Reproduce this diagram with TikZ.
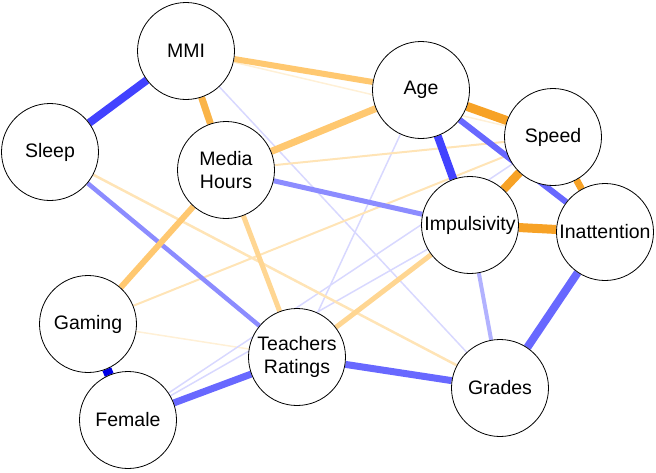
\documentclass[tikz,border=0pt]{standalone}
\usepackage{fontspec}
\setmainfont{Liberation Sans}
\usetikzlibrary{backgrounds}
\definecolor{negA}{RGB}{0,0,230}
\definecolor{negB}{RGB}{66,66,255}
\definecolor{negC}{RGB}{104,104,255}
\definecolor{negD}{RGB}{140,140,255}
\definecolor{negE}{RGB}{178,178,255}
\definecolor{negF}{RGB}{216,216,255}
\definecolor{posA}{RGB}{247,162,38}
\definecolor{posB}{RGB}{250,180,72}
\definecolor{posC}{RGB}{255,200,112}
\definecolor{posD}{RGB}{255,214,146}
\definecolor{posE}{RGB}{255,228,182}
\definecolor{posF}{RGB}{255,240,214}
\begin{document}
    \begin{tikzpicture}[x=1pt, y=-1pt,
            var/.style={circle, draw, fill=white, line width=0.8pt, minimum size=97pt,
                inner sep=0pt, align=center, font=\fontsize{19.5}{23}\selectfont},
            edge/.style={line width=#1}]
        \useasboundingbox (0,0) rectangle (656,472);
        \node [var] (mmi) at (186,51) {MMI};
        \node [var] (sleep) at (50,152) {Sleep};
        \node [var] (media) at (226,170) {Media\\Hours};
        \node [var] (age) at (421,90) {Age};
        \node [var] (speed) at (553,137) {Speed};
        \node [var] (impuls) at (470,225) {Impulsivity};
        \node [var] (inatt) at (605,232) {Inattention};
        \node [var] (gaming) at (88,324) {Gaming};
        \node [var] (teach) at (297,357) {Teachers\\Ratings};
        \node [var] (grades) at (500,388) {Grades};
        \node [var] (female) at (128,420) {Female};
        \begin{scope}[on background layer]
            \draw [posF, edge=1.5] (mmi) -- (speed);
            \draw [posF, edge=1.5] (gaming) -- (grades);
            \draw [negF, edge=1.5] (mmi) -- (grades);
            \draw [negF, edge=1.5] (age) -- (teach);
            \draw [negF, edge=1.5] (female) -- (speed);
            \draw [negF, edge=1.5] (female) -- (impuls);
            \draw [posE, edge=2] (media) -- (speed);
            \draw [posE, edge=2] (gaming) -- (speed);
            \draw [posE, edge=2.5] (sleep) -- (grades);
            \draw [negE, edge=4] (impuls) -- (grades);
            \draw [negD, edge=4.5] (sleep) -- (teach);
            \draw [negD, edge=5] (impuls) -- (media);
            \draw [posD, edge=5] (media) -- (teach);
            \draw [posD, edge=5] (impuls) -- (teach);
            \draw [posC, edge=6] (mmi) -- (age);
            \draw [posC, edge=6] (media) -- (gaming);
            \draw [posC, edge=7] (age) -- (media);
            \draw [posB, edge=7] (mmi) -- (media);
            \draw [negC, edge=6] (age) -- (inatt);
            \draw [negC, edge=7] (female) -- (teach);
            \draw [negC, edge=7] (teach) -- (grades);
            \draw [negC, edge=8] (inatt) -- (grades);
            \draw [posA, edge=7] (speed) -- (inatt);
            \draw [negB, edge=8] (age) -- (impuls);
            \draw [negB, edge=8] (mmi) -- (sleep);
            \draw [posA, edge=8.5] (speed) -- (impuls);
            \draw [posA, edge=9] (age) -- (speed);
            \draw [posA, edge=9] (impuls) -- (inatt);
            \draw [negA, edge=9.5] (gaming) -- (female);
        \end{scope}
    \end{tikzpicture}
\end{document}
